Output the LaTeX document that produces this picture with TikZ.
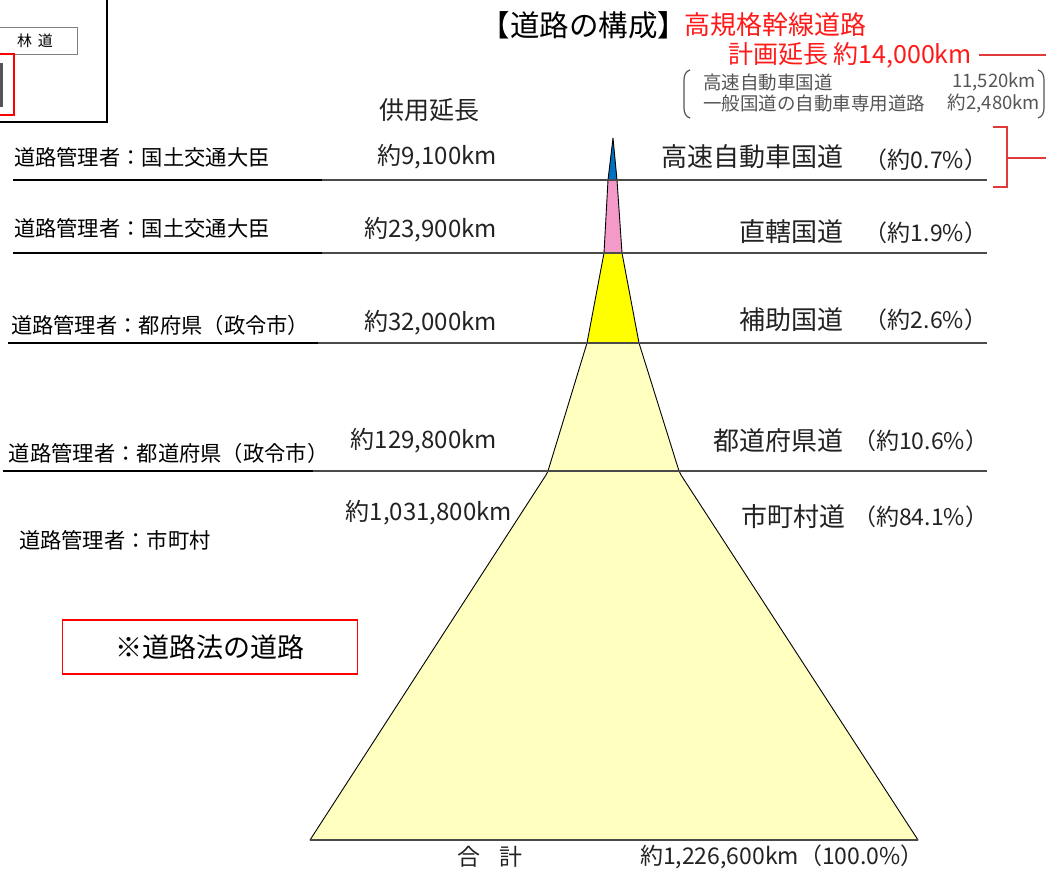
\documentclass[tikz,border=0pt]{standalone}
\usepackage{fontspec}
\setmainfont{Noto Sans CJK JP}
\definecolor{txtgray}{HTML}{222222}
\definecolor{smallgray}{HTML}{555555}
\definecolor{rulegray}{HTML}{4A4A4A}
\definecolor{lyellow}{HTML}{FFFFC0}
\definecolor{byellow}{HTML}{FFFF00}
\definecolor{pinkband}{HTML}{F49AC8}
\definecolor{blueband}{HTML}{0070C0}
\definecolor{redtxt}{HTML}{FF1A1A}
\definecolor{redline}{HTML}{E03A3A}
\begin{document}
\begin{tikzpicture}[x=1pt,y=-1pt,
  every node/.style={inner sep=0pt, outer sep=0pt},
  mgr/.style={font=\fontsize{21.3}{21.3}\selectfont, anchor=west, text=black},
  lenlbl/.style={font=\fontsize{24}{24}\selectfont, anchor=east, text=txtgray},
  catlbl/.style={font=\fontsize{26}{26}\selectfont, anchor=east, text=txtgray},
  pctlbl/.style={font=\fontsize{23}{23}\selectfont, anchor=east, text=txtgray},
  smalllbl/.style={font=\fontsize{18.5}{18.5}\selectfont, text=smallgray},
  band/.style={draw=black, line width=0.9pt, line join=round},
  rulethick/.style={line width=2.6pt, black},
  rulethin/.style={line width=1.5pt, rulegray},
  redrule/.style={line width=1.5pt, redline},
]
\useasboundingbox (0,0) rectangle (1046,870);

% ---- top-left partial panel ----
\draw[line width=2pt, black] (-5,-5) rectangle (107,122);
\draw[line width=1pt, gray] (-5,27) rectangle (77,54);
\node[font=\fontsize{15}{15}\selectfont] (rindo) at (35,41) {林\hspace{0.4em}道};
\fill[smallgray] (-5,63) rectangle (3,107);
\draw[line width=2pt, red] (-5,54) rectangle (14,115);

% ---- pyramid ----
\coordinate (apex) at (613,138);
\coordinate (l1) at (608,180); \coordinate (r1) at (617,180);
\coordinate (l2) at (604,253); \coordinate (r2) at (622,253);
\coordinate (l3) at (587,343); \coordinate (r3) at (639,343);
\coordinate (l4) at (548,471); \coordinate (r4) at (679,471);
\coordinate (lk) at (546,475); \coordinate (rk) at (681,475);
\coordinate (lb) at (310,840); \coordinate (rb) at (918,840);

\draw[band, fill=lyellow] (l4) -- (lk) -- (lb) -- (rb) -- (rk) -- (r4) -- cycle;
\draw[band, fill=lyellow] (l3) -- (l4) -- (r4) -- (r3) -- cycle;
\draw[band, fill=byellow] (l2) -- (l3) -- (r3) -- (r2) -- cycle;
\draw[band, fill=pinkband] (l1) -- (l2) -- (r2) -- (r1) -- cycle;
\draw[band, fill=blueband] (apex) -- (l1) -- (r1) -- cycle;

% ---- horizontal rules ----
\coordinate (a1) at (13,180); \coordinate (m1) at (322,180); \coordinate (e1) at (987,180);
\coordinate (a2) at (13,253); \coordinate (m2) at (322,253); \coordinate (e2) at (987,253);
\coordinate (a3) at (8,343);  \coordinate (m3) at (318,343); \coordinate (e3) at (987,343);
\coordinate (a4) at (3,471);  \coordinate (m4) at (313,471); \coordinate (e4) at (987,471);
\foreach \i in {1,2,3,4} {
  \draw[rulethin] (m\i) -- (e\i);
  \draw[rulethick] (a\i) -- (m\i);
}
\draw[rulethin] (lb) -- (rb);

% ---- title ----
\node[font=\fontsize{29.5}{29.5}\selectfont, text=black] (title) at (584,25) {【道路の構成】};
\node[font=\fontsize{26}{26}\selectfont, anchor=west, text=redtxt] (koukikaku) at (684,25) {高規格幹線道路};
\node[font=\fontsize{25}{25}\selectfont, anchor=west, text=redtxt] (keikaku) at (728,55) {計画延長 約14,000km};
\coordinate (redend1) at (1046,55);
\draw[redrule] (keikaku.east) ++(7,0) coordinate (reds1) -- (redend1);

% small breakdown
\node[smalllbl, anchor=west] (s1) at (703,82) {高速自動車国道};
\node[smalllbl, anchor=east] (s1v) at (1036,82) {11,520km};
\node[smalllbl, anchor=west] (s2) at (703,103) {一般国道の自動車専用道路};
\node[smalllbl, anchor=east] (s2v) at (1040,103) {約2,480km};
\draw[line width=1.2pt, smallgray] (690,70) to[out=195,in=90] (684,80) -- (684,108) to[out=-90,in=165] (690,118);
\draw[line width=1.2pt, smallgray] (1038,70) to[out=-15,in=90] (1044,80) -- (1044,108) to[out=-90,in=15] (1038,118);

% red bracket
\coordinate (bt) at (993,127); \coordinate (bb) at (993,187);
\coordinate (bm) at (1007,158); \coordinate (bend) at (1046,158);
\draw[line width=1.5pt, redline] (bt) -- (1007,127) -- (1007,187) -- (bb);
\draw[redrule] (bm) -- (bend);

% ---- column headers and values ----
\node[font=\fontsize{25}{25}\selectfont, text=txtgray] (kyoyo) at (429,110) {供用延長};

\node[lenlbl] (v1) at (497,157) {約9,100km};
\node[lenlbl] (v2) at (497,230) {約23,900km};
\node[lenlbl] (v3) at (497,323) {約32,000km};
\node[lenlbl] (v4) at (497,441) {約129,800km};
\node[lenlbl] (v5) at (512,513) {約1,031,800km};

\node[catlbl] (c1) at (843,157) {高速自動車国道};
\node[catlbl] (c2) at (843,232) {直轄国道};
\node[catlbl] (c3) at (843,320) {補助国道};
\node[catlbl] (c4) at (843,441) {都道府県道};
\node[catlbl] (c5) at (845,517) {市町村道};

\node[pctlbl] (p1) at (987,160) {（約0.7\%）};
\node[pctlbl] (p2) at (987,233) {（約1.9\%）};
\node[pctlbl] (p3) at (987,320) {（約2.6\%）};
\node[pctlbl] (p4) at (988,441) {（約10.6\%）};
\node[pctlbl] (p5) at (988,517) {（約84.1\%）};

% ---- managers ----
\node[mgr] (g1) at (14,157) {道路管理者：国土交通大臣};
\node[mgr] (g2) at (14,228) {道路管理者：国土交通大臣};
\node[mgr] (g3) at (11,325) {道路管理者：都府県（政令市）};
\node[mgr] (g4) at (9,453) {道路管理者：都道府県（政令市）};
\node[mgr] (g5) at (19,540) {道路管理者：市町村};

% ---- note box ----
\node[draw=red, line width=1.5pt, minimum width=295pt, minimum height=54pt,
      font=\fontsize{27}{27}\selectfont, text=black] (note) at (210,647) {※道路法の道路};

% ---- total ----
\node[font=\fontsize{23}{23}\selectfont, text=txtgray] (goukei) at (490,857) {合\hspace{0.8em}計};
\node[font=\fontsize{23}{23}\selectfont, anchor=west, text=txtgray] (total) at (640,857) {約1,226,600km（100.0\%）};
\end{tikzpicture}
\end{document}
